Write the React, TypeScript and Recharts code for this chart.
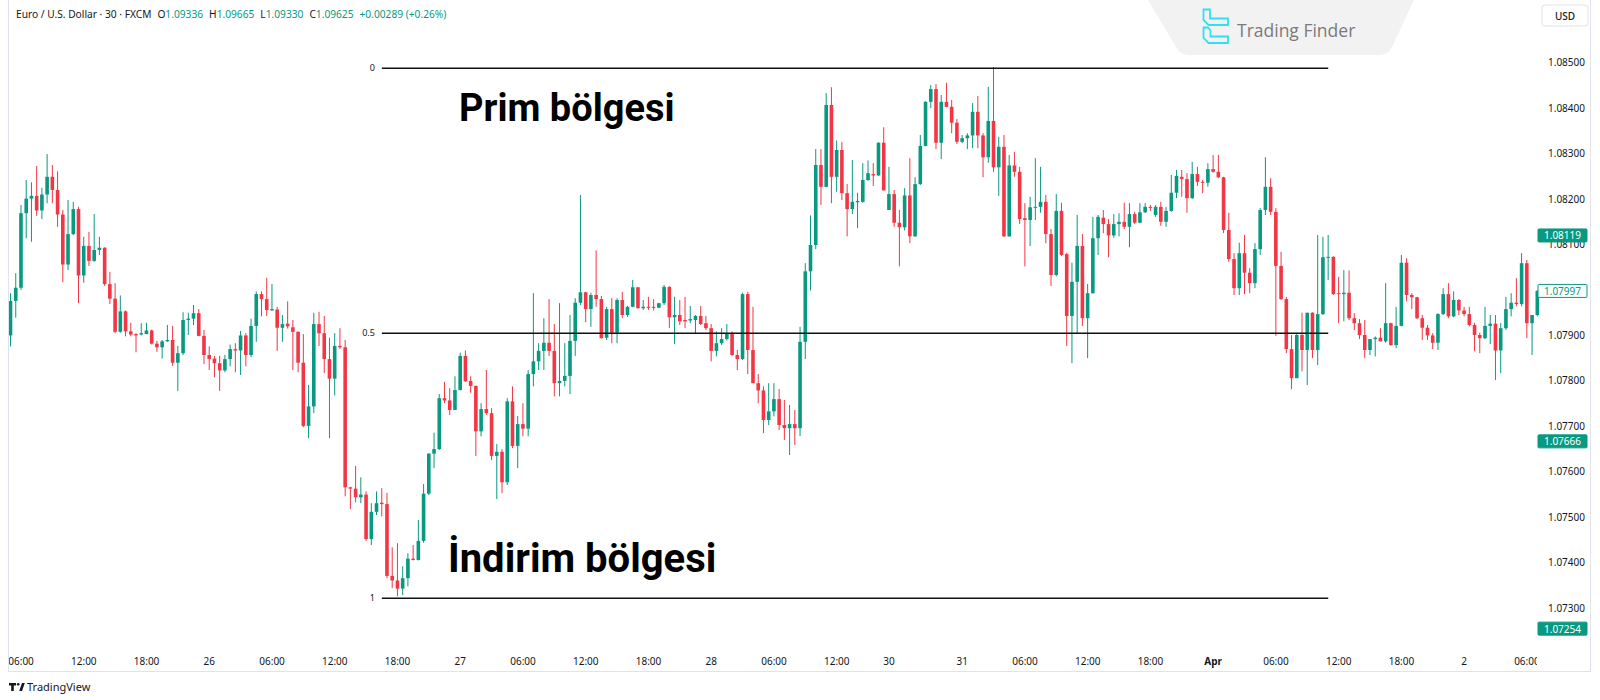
import React from 'react';
import { ComposedChart, Bar, XAxis, YAxis, ReferenceLine } from 'recharts';

const GREEN = '#089981';
const RED = '#F23645';
const INK = '#131722';
const FONT = '"Noto Sans", "Liberation Sans", sans-serif';

// EUR/USD 30m candles (left to right)
const opens = [
  1.07899, 1.07975, 1.08004, 1.08168, 1.08200, 1.08206, 1.08174, 1.08209, 1.08248, 1.08219,
  1.08165, 1.08055, 1.08122, 1.08177, 1.08031, 1.08096, 1.08063, 1.08087, 1.08092, 1.08012,
  1.07980, 1.07907, 1.07952, 1.07908, 1.07902, 1.07901, 1.07902, 1.07910, 1.07881, 1.07873,
  1.07886, 1.07889, 1.07839, 1.07860, 1.07933, 1.07936, 1.07948, 1.07898, 1.07856, 1.07848,
  1.07838, 1.07822, 1.07847, 1.07869, 1.07866, 1.07899, 1.07856, 1.07920, 1.07990, 1.07979,
  1.07954, 1.07956, 1.07916, 1.07925, 1.07917, 1.07907, 1.07839, 1.07700, 1.07743, 1.07924,
  1.07904, 1.07847, 1.07804, 1.07876, 1.07873, 1.07565, 1.07562, 1.07543, 1.07549, 1.07451,
  1.07511, 1.07531, 1.07528, 1.07370, 1.07360, 1.07342, 1.07365, 1.07408, 1.07405, 1.07447,
  1.07551, 1.07639, 1.07649, 1.07761, 1.07756, 1.07735, 1.07779, 1.07854, 1.07799, 1.07788,
  1.07688, 1.07737, 1.07728, 1.07634, 1.07643, 1.07576, 1.07754, 1.07656, 1.07704, 1.07694,
  1.07814, 1.07842, 1.07865, 1.07883, 1.07865, 1.07794, 1.07799, 1.07810, 1.07887, 1.07971,
  1.07994, 1.07957, 1.07988, 1.07979, 1.07894, 1.07957, 1.07905, 1.07977, 1.07944, 1.07962,
  1.08005, 1.07959, 1.07962, 1.07962, 1.07960, 1.07970, 1.08006, 1.07939, 1.07944, 1.07933,
  1.07932, 1.07933, 1.07942, 1.07926, 1.07915, 1.07865, 1.07882, 1.07891, 1.07904, 1.07856,
  1.07847, 1.07990, 1.07867, 1.07794, 1.07778, 1.07713, 1.07732, 1.07759, 1.07702, 1.07695,
  1.07704, 1.07695, 1.07885, 1.08040, 1.08098, 1.08274, 1.08226, 1.08406, 1.08248, 1.08307,
  1.08212, 1.08177, 1.08192, 1.08193, 1.08241, 1.08254, 1.08251, 1.08323, 1.08175, 1.08210,
  1.08147, 1.08137, 1.08207, 1.08117, 1.08232, 1.08316, 1.08413, 1.08441, 1.08323, 1.08413,
  1.08402, 1.08367, 1.08325, 1.08333, 1.08339, 1.08391, 1.08339, 1.08291, 1.08371, 1.08269,
  1.08314, 1.08117, 1.08273, 1.08259, 1.08157, 1.08153, 1.08180, 1.08182, 1.08193, 1.08122,
  1.08032, 1.08173, 1.08078, 1.07942, 1.08017, 1.08096, 1.07937, 1.07992, 1.08113, 1.08158,
  1.08144, 1.08119, 1.08144, 1.08149, 1.08138, 1.08166, 1.08147, 1.08170, 1.08182, 1.08164,
  1.08182, 1.08149, 1.08173, 1.08213, 1.08248, 1.08243, 1.08201, 1.08254, 1.08237, 1.08235,
  1.08265, 1.08259, 1.08247, 1.08131, 1.08067, 1.08003, 1.08080, 1.08037, 1.08014, 1.08089,
  1.08175, 1.08226, 1.08171, 1.08052, 1.07979, 1.07869, 1.07805, 1.07900, 1.07867, 1.07949,
  1.07867, 1.07946, 1.08070, 1.08072, 1.07992, 1.07990, 1.07993, 1.07937, 1.07926, 1.07900,
  1.07867, 1.07891, 1.07894, 1.07886, 1.07926, 1.07878, 1.07920, 1.08059, 1.07988, 1.07983,
  1.07937, 1.07916, 1.07899, 1.07883, 1.07946, 1.07990, 1.07941, 1.07977, 1.07954, 1.07946,
  1.07922, 1.07900, 1.07893, 1.07920, 1.07925, 1.07866, 1.07915, 1.07957, 1.07971, 1.07968,
  1.08058, 1.07926, 1.07944,
];

const highs = [
  1.07992, 1.08036, 1.08186, 1.08241, 1.08236, 1.08272, 1.08224, 1.08298, 1.08274, 1.08260,
  1.08175, 1.08197, 1.08193, 1.08182, 1.08116, 1.08127, 1.08166, 1.08116, 1.08093, 1.08039,
  1.08014, 1.07987, 1.07954, 1.07927, 1.07904, 1.07926, 1.07927, 1.07912, 1.07887, 1.07889,
  1.07922, 1.07920, 1.07876, 1.07950, 1.07949, 1.07966, 1.07957, 1.07911, 1.07875, 1.07854,
  1.07854, 1.07856, 1.07879, 1.07882, 1.07909, 1.07904, 1.07936, 1.07996, 1.07996, 1.08026,
  1.08012, 1.07962, 1.07944, 1.07974, 1.07933, 1.07908, 1.07902, 1.07790, 1.07949, 1.07951,
  1.07942, 1.07894, 1.07904, 1.07915, 1.07889, 1.07566, 1.07612, 1.07587, 1.07556, 1.07530,
  1.07556, 1.07563, 1.07553, 1.07433, 1.07442, 1.07391, 1.07420, 1.07438, 1.07493, 1.07572,
  1.07640, 1.07685, 1.07770, 1.07797, 1.07783, 1.07809, 1.07861, 1.07866, 1.07809, 1.07789,
  1.07750, 1.07823, 1.07739, 1.07660, 1.07649, 1.07761, 1.07787, 1.07722, 1.07750, 1.07823,
  1.07992, 1.07882, 1.07937, 1.07979, 1.07924, 1.07970, 1.07882, 1.07944, 1.07981, 1.08208,
  1.07995, 1.07993, 1.08086, 1.07986, 1.07962, 1.07981, 1.07981, 1.07995, 1.07964, 1.08021,
  1.08006, 1.07977, 1.07984, 1.07979, 1.07971, 1.08010, 1.08007, 1.07984, 1.07977, 1.07984,
  1.07964, 1.07944, 1.07964, 1.07942, 1.07924, 1.07908, 1.07915, 1.07924, 1.07908, 1.07867,
  1.07993, 1.07995, 1.07962, 1.07814, 1.07787, 1.07794, 1.07794, 1.07781, 1.07757, 1.07746,
  1.07735, 1.07918, 1.08058, 1.08163, 1.08309, 1.08309, 1.08432, 1.08445, 1.08328, 1.08325,
  1.08232, 1.08285, 1.08213, 1.08278, 1.08284, 1.08278, 1.08324, 1.08357, 1.08270, 1.08219,
  1.08175, 1.08223, 1.08289, 1.08247, 1.08340, 1.08414, 1.08450, 1.08452, 1.08428, 1.08455,
  1.08417, 1.08375, 1.08340, 1.08344, 1.08410, 1.08426, 1.08344, 1.08446, 1.08490, 1.08336,
  1.08340, 1.08296, 1.08303, 1.08270, 1.08190, 1.08204, 1.08289, 1.08270, 1.08208, 1.08133,
  1.08210, 1.08191, 1.08081, 1.08059, 1.08164, 1.08122, 1.08012, 1.08160, 1.08164, 1.08175,
  1.08155, 1.08166, 1.08168, 1.08191, 1.08190, 1.08171, 1.08190, 1.08190, 1.08186, 1.08186,
  1.08193, 1.08182, 1.08252, 1.08263, 1.08263, 1.08256, 1.08281, 1.08270, 1.08241, 1.08278,
  1.08296, 1.08296, 1.08248, 1.08169, 1.08080, 1.08103, 1.08120, 1.08047, 1.08102, 1.08179,
  1.08291, 1.08245, 1.08179, 1.08083, 1.07984, 1.07900, 1.07905, 1.07949, 1.07949, 1.07950,
  1.08120, 1.08116, 1.08120, 1.08073, 1.08028, 1.08043, 1.08042, 1.07948, 1.07935, 1.07933,
  1.07891, 1.07897, 1.07915, 1.08014, 1.07927, 1.07962, 1.08076, 1.08069, 1.07992, 1.07984,
  1.07944, 1.07922, 1.07904, 1.07948, 1.08003, 1.08014, 1.07996, 1.07979, 1.07962, 1.07962,
  1.07927, 1.07905, 1.07962, 1.07944, 1.07944, 1.07926, 1.07984, 1.07992, 1.08025, 1.08080,
  1.08065, 1.07944, 1.07999,
];

const lows = [
  1.07875, 1.07938, 1.07999, 1.08113, 1.08105, 1.08162, 1.08155, 1.08190, 1.08190, 1.08138,
  1.08016, 1.08043, 1.08120, 1.07970, 1.08015, 1.08052, 1.08061, 1.08076, 1.08008, 1.07968,
  1.07904, 1.07905, 1.07897, 1.07897, 1.07862, 1.07899, 1.07902, 1.07879, 1.07863, 1.07848,
  1.07885, 1.07832, 1.07777, 1.07856, 1.07900, 1.07922, 1.07897, 1.07836, 1.07823, 1.07807,
  1.07777, 1.07818, 1.07831, 1.07818, 1.07812, 1.07831, 1.07851, 1.07885, 1.07941, 1.07942,
  1.07954, 1.07865, 1.07885, 1.07914, 1.07823, 1.07818, 1.07697, 1.07673, 1.07728, 1.07876,
  1.07816, 1.07673, 1.07767, 1.07869, 1.07545, 1.07517, 1.07532, 1.07530, 1.07447, 1.07438,
  1.07504, 1.07501, 1.07365, 1.07343, 1.07325, 1.07328, 1.07347, 1.07404, 1.07404, 1.07443,
  1.07548, 1.07607, 1.07647, 1.07750, 1.07724, 1.07735, 1.07778, 1.07797, 1.07773, 1.07634,
  1.07677, 1.07724, 1.07625, 1.07539, 1.07552, 1.07570, 1.07651, 1.07607, 1.07677, 1.07677,
  1.07787, 1.07823, 1.07823, 1.07854, 1.07765, 1.07765, 1.07787, 1.07770, 1.07854, 1.07966,
  1.07928, 1.07918, 1.07962, 1.07892, 1.07889, 1.07882, 1.07882, 1.07937, 1.07940, 1.07961,
  1.07958, 1.07955, 1.07955, 1.07954, 1.07959, 1.07966, 1.07915, 1.07880, 1.07922, 1.07915,
  1.07926, 1.07902, 1.07922, 1.07911, 1.07842, 1.07853, 1.07878, 1.07888, 1.07854, 1.07823,
  1.07845, 1.07814, 1.07794, 1.07750, 1.07684, 1.07702, 1.07721, 1.07691, 1.07669, 1.07636,
  1.07658, 1.07678, 1.07847, 1.07998, 1.08089, 1.08186, 1.08225, 1.08190, 1.08215, 1.08197,
  1.08117, 1.08166, 1.08135, 1.08191, 1.08239, 1.08228, 1.08250, 1.08218, 1.08175, 1.08138,
  1.08051, 1.08130, 1.08102, 1.08116, 1.08230, 1.08315, 1.08399, 1.08309, 1.08287, 1.08401,
  1.08344, 1.08320, 1.08322, 1.08309, 1.08311, 1.08311, 1.08247, 1.08279, 1.08259, 1.08206,
  1.08116, 1.08116, 1.08248, 1.08144, 1.08051, 1.08096, 1.08153, 1.08169, 1.08102, 1.08008,
  1.08029, 1.08074, 1.07876, 1.07838, 1.07904, 1.07920, 1.07849, 1.07991, 1.08076, 1.08124,
  1.08071, 1.08114, 1.08117, 1.08133, 1.08093, 1.08144, 1.08146, 1.08168, 1.08173, 1.08160,
  1.08140, 1.08138, 1.08171, 1.08201, 1.08204, 1.08169, 1.08199, 1.08228, 1.08212, 1.08226,
  1.08257, 1.08245, 1.08124, 1.08061, 1.07988, 1.07988, 1.07990, 1.07992, 1.08003, 1.08076,
  1.08164, 1.08164, 1.07898, 1.07977, 1.07860, 1.07781, 1.07805, 1.07820, 1.07790, 1.07849,
  1.07834, 1.07944, 1.08021, 1.07988, 1.07926, 1.07930, 1.07933, 1.07911, 1.07891, 1.07849,
  1.07856, 1.07853, 1.07886, 1.07883, 1.07876, 1.07871, 1.07919, 1.07974, 1.07957, 1.07935,
  1.07889, 1.07889, 1.07869, 1.07867, 1.07944, 1.07937, 1.07939, 1.07944, 1.07941, 1.07919,
  1.07864, 1.07860, 1.07891, 1.07880, 1.07801, 1.07816, 1.07911, 1.07941, 1.07963, 1.07963,
  1.07893, 1.07856, 1.07941,
];

const closes = [
  1.07975, 1.08004, 1.08168, 1.08200, 1.08206, 1.08174, 1.08209, 1.08248, 1.08219, 1.08165,
  1.08055, 1.08122, 1.08177, 1.08031, 1.08096, 1.08063, 1.08087, 1.08092, 1.08012, 1.07980,
  1.07907, 1.07952, 1.07908, 1.07901, 1.07899, 1.07904, 1.07910, 1.07881, 1.07873, 1.07886,
  1.07889, 1.07839, 1.07860, 1.07933, 1.07936, 1.07948, 1.07898, 1.07856, 1.07847, 1.07838,
  1.07822, 1.07847, 1.07869, 1.07866, 1.07899, 1.07856, 1.07920, 1.07990, 1.07979, 1.07955,
  1.07957, 1.07916, 1.07924, 1.07919, 1.07907, 1.07839, 1.07700, 1.07743, 1.07924, 1.07904,
  1.07847, 1.07804, 1.07876, 1.07873, 1.07565, 1.07562, 1.07543, 1.07549, 1.07451, 1.07511,
  1.07530, 1.07528, 1.07370, 1.07360, 1.07342, 1.07365, 1.07408, 1.07405, 1.07447, 1.07551,
  1.07639, 1.07649, 1.07761, 1.07756, 1.07735, 1.07779, 1.07854, 1.07798, 1.07788, 1.07688,
  1.07737, 1.07728, 1.07634, 1.07643, 1.07576, 1.07754, 1.07656, 1.07704, 1.07694, 1.07814,
  1.07842, 1.07865, 1.07883, 1.07865, 1.07794, 1.07799, 1.07810, 1.07887, 1.07971, 1.07994,
  1.07957, 1.07988, 1.07979, 1.07893, 1.07957, 1.07905, 1.07977, 1.07944, 1.07962, 1.08005,
  1.07959, 1.07962, 1.07960, 1.07960, 1.07970, 1.08006, 1.07939, 1.07944, 1.07930, 1.07930,
  1.07935, 1.07942, 1.07924, 1.07915, 1.07865, 1.07882, 1.07891, 1.07904, 1.07856, 1.07847,
  1.07990, 1.07867, 1.07794, 1.07778, 1.07713, 1.07732, 1.07759, 1.07702, 1.07695, 1.07704,
  1.07695, 1.07885, 1.08040, 1.08098, 1.08274, 1.08226, 1.08406, 1.08248, 1.08307, 1.08212,
  1.08177, 1.08193, 1.08195, 1.08241, 1.08256, 1.08251, 1.08323, 1.08218, 1.08210, 1.08147,
  1.08137, 1.08207, 1.08117, 1.08232, 1.08316, 1.08413, 1.08441, 1.08323, 1.08413, 1.08402,
  1.08367, 1.08325, 1.08333, 1.08339, 1.08391, 1.08339, 1.08291, 1.08371, 1.08269, 1.08314,
  1.08117, 1.08273, 1.08259, 1.08155, 1.08153, 1.08181, 1.08182, 1.08193, 1.08122, 1.08032,
  1.08173, 1.08076, 1.07942, 1.08017, 1.08096, 1.07937, 1.07992, 1.08113, 1.08160, 1.08144,
  1.08119, 1.08144, 1.08149, 1.08138, 1.08166, 1.08147, 1.08170, 1.08182, 1.08180, 1.08182,
  1.08149, 1.08173, 1.08213, 1.08250, 1.08243, 1.08201, 1.08254, 1.08237, 1.08235, 1.08265,
  1.08259, 1.08247, 1.08131, 1.08067, 1.08003, 1.08080, 1.08037, 1.08014, 1.08089, 1.08175,
  1.08226, 1.08171, 1.08052, 1.07979, 1.07869, 1.07805, 1.07900, 1.07867, 1.07949, 1.07867,
  1.07946, 1.08071, 1.08072, 1.07990, 1.07990, 1.07993, 1.07937, 1.07926, 1.07900, 1.07867,
  1.07891, 1.07894, 1.07886, 1.07926, 1.07878, 1.07920, 1.08059, 1.07988, 1.07983, 1.07937,
  1.07916, 1.07899, 1.07883, 1.07946, 1.07990, 1.07941, 1.07977, 1.07954, 1.07946, 1.07922,
  1.07900, 1.07893, 1.07920, 1.07925, 1.07866, 1.07915, 1.07957, 1.07971, 1.07968, 1.08058,
  1.07926, 1.07944, 1.07997,
];

// time axis: candle index of each label
const timeTicks = [2, 14, 26, 38, 50, 62, 74, 86, 98, 110, 122, 134, 146, 158, 168, 182, 194, 206, 218, 230, 242, 254, 266, 278, 290];
const timeLabels = ['06:00', '12:00', '18:00', '26', '06:00', '12:00', '18:00', '27', '06:00', '12:00', '18:00', '28', '06:00', '12:00', '30', '31', '06:00', '12:00', '18:00', 'Apr', '06:00', '12:00', '18:00', '2', '06:00'];

// 1.08000 is hidden behind the last-price badge in the screenshot
const priceTicks = [1.073, 1.074, 1.075, 1.076, 1.077, 1.078, 1.079, 1.081, 1.082, 1.083, 1.084, 1.085];

// fibonacci levels drawn from candle 71 to 252
const fibLevels = [1.08487, 1.07904, 1.07321];
const fibLabels = ['0', '0.5', '1'];
const fibFrom = 71;
const fibTo = 252;

// price-scale badges (last price is the outlined one)
const badgePrices = [1.08119, 1.07997, 1.07666, 1.07254];
const badgeOutline = [false, true, false, false];

const Y_DOMAIN = [1.07218, 1.08637];

const data = opens.map((o, i) => ({
  i,
  open: o,
  high: highs[i],
  low: lows[i],
  close: closes[i],
  range: [lows[i], highs[i]],
}));

const Candle = (props: any) => {
  const { x, y, width, height, payload } = props;
  if (!payload) return null;
  const { open, high, low, close } = payload;
  const top = Math.min(y, y + height);
  const h = Math.abs(height);
  const k = h / (high - low || 1);
  const yO = top + (high - open) * k;
  const yC = top + (high - close) * k;
  const color = close >= open ? GREEN : RED;
  const cx = x + width / 2;
  const bt = Math.min(yO, yC);
  const bh = Math.max(1, Math.abs(yO - yC));
  return (
    <g>
      <line x1={cx} x2={cx} y1={top} y2={top + h} stroke={color} strokeWidth={1} />
      <rect x={cx - 1.8} y={bt} width={3.6} height={bh} fill={color} />
    </g>
  );
};

const TimeTick = (props: any) => {
  const { x, y, payload } = props;
  const idx = timeTicks.indexOf(payload.value);
  const label = idx >= 0 ? timeLabels[idx] : '';
  return (
    <text x={x} y={y} textAnchor="middle" dominantBaseline="central" fontSize={10}
      fontFamily={FONT} fill={INK} fontWeight={label === 'Apr' ? 700 : 400}>
      {label}
    </text>
  );
};

const PriceTick = (props: any) => {
  const { x, y, payload } = props;
  return (
    <text x={x} y={y} textAnchor="start" dominantBaseline="central" fontSize={10}
      fontFamily={FONT} fill={INK}>
      {Number(payload.value).toFixed(5)}
    </text>
  );
};

// drawn by a second, 1px wide right axis so it sits on top of the price labels
const BadgeTick = (props: any) => {
  const { x, y, payload } = props;
  const k = badgePrices.indexOf(payload.value);
  const outline = k >= 0 && badgeOutline[k];
  const bx = x - 2;
  return (
    <g>
      <rect x={bx} y={y - 6.5} width={49} height={13} rx={1}
        fill={outline ? '#fff' : GREEN} stroke={GREEN} strokeWidth={1} />
      <text x={bx + 24.5} y={y} textAnchor="middle" dominantBaseline="central"
        fontSize={10} fontFamily={FONT} fill={outline ? GREEN : '#fff'}>
        {Number(payload.value).toFixed(5)}
      </text>
    </g>
  );
};

export default function App() {
  return (
    <div style={{ position: 'absolute', left: 0, top: 0, width: 1600, height: 700, background: '#fff' }}>
      <ComposedChart width={1600} height={700} data={data}
        margin={{ top: 0, right: 10, bottom: 28, left: 8 }}>
        <XAxis dataKey="i" type="category" ticks={timeTicks} interval={0}
          axisLine={false} tickLine={false} tickSize={0} tickMargin={16} height={27}
          tick={(p: any) => <TimeTick {...p} />} />
        <YAxis yAxisId="price" orientation="right" type="number" domain={Y_DOMAIN}
          allowDataOverflow ticks={priceTicks} width={49} axisLine={false}
          tickLine={false} tickSize={0} tickMargin={7}
          tick={(p: any) => <PriceTick {...p} />} />
        <YAxis yAxisId="badge" orientation="right" type="number" domain={Y_DOMAIN}
          allowDataOverflow ticks={badgePrices} width={1} axisLine={false}
          tickLine={false} tickSize={0} tickMargin={0} interval={0}
          tick={(p: any) => <BadgeTick {...p} />} />
        <Bar yAxisId="price" dataKey="range" shape={Candle} isAnimationActive={false} />
        {fibLevels.map((lvl, k) => (
          <ReferenceLine key={'fib' + k} yAxisId="price"
            segment={[{ x: fibFrom, y: lvl }, { x: fibTo, y: lvl }]}
            stroke="#111" strokeWidth={1.6}
            label={{ value: fibLabels[k], position: 'left', offset: 7, fontSize: 9, fill: INK, fontFamily: FONT }} />
        ))}
        <ReferenceLine yAxisId="badge" y={badgePrices[0]} stroke="none" />
      </ComposedChart>

      <svg width={1600} height={700}
        style={{ position: 'absolute', left: 0, top: 0, pointerEvents: 'none' }}>
        <line x1={8.5} y1={0} x2={8.5} y2={671} stroke="#e0e3eb" />
        <line x1={1590.5} y1={0} x2={1590.5} y2={671} stroke="#e0e3eb" />
        <line x1={8} y1={671.5} x2={1591} y2={671.5} stroke="#e0e3eb" />
        <rect x={1537} y={648} width={53} height={22} fill="#fff" />

        <text x={16} y={18} fontSize={10.2} fontFamily={FONT} fill={INK}>
          <tspan>Euro / U.S. Dollar · 30 · FXCM</tspan>
          <tspan dx={6}>O</tspan><tspan fill={GREEN}>1.09336</tspan>
          <tspan dx={6}>H</tspan><tspan fill={GREEN}>1.09665</tspan>
          <tspan dx={6}>L</tspan><tspan fill={GREEN}>1.09330</tspan>
          <tspan dx={6}>C</tspan><tspan fill={GREEN}>1.09625</tspan>
          <tspan dx={6} fill={GREEN}>+0.00289 (+0.26%)</tspan>
        </text>

        <path d="M1148 0 H1414 L1392 47 Q1388 55 1379 55 H1189 Q1180 55 1176 47 Z" fill="#f2f2f2" />
        <path d="M1203.5 9.5 H1210 V18.5 H1228 V25 H1208.5 L1203.5 20 Z" fill="none" stroke="#2fe0f2" strokeWidth={1.8} />
        <path d="M1203.5 27.5 H1208 L1210.5 30.5 V36.5 H1228 V43 H1208.5 L1203.5 38 Z" fill="none" stroke="#2fe0f2" strokeWidth={1.8} />
        <text x={1237} y={37} fontSize={17.5} fontFamily={'"Open Sans", sans-serif'} fill="#7a7a7a">Trading Finder</text>

        <rect x={1542} y={5} width={46} height={21} rx={3} fill="#fff" stroke="#e0e3eb" />
        <text x={1565} y={15.5} textAnchor="middle" dominantBaseline="central" fontSize={10}
          fontWeight={500} fontFamily={FONT} fill={INK}>USD</text>

        <text x={459} y={121} fontSize={38} fontWeight={700} fontFamily="Roboto, sans-serif" fill="#000">Prim bölgesi</text>
        <text x={448} y={572} fontSize={40} fontWeight={700} fontFamily="Roboto, sans-serif" fill="#000">İndirim bölgesi</text>

        <path d="M9 683 H16 V685.6 H13.8 V691 H11.2 V685.6 H9 Z" fill={INK} />
        <circle cx={18.2} cy={684.3} r={1.3} fill={INK} />
        <path d="M19.2 691 L22 683 H24.8 L22 691 Z" fill={INK} />
        <text x={27} y={691} fontSize={11} fontFamily={FONT} fill={INK}>TradingView</text>
      </svg>
    </div>
  );
}
